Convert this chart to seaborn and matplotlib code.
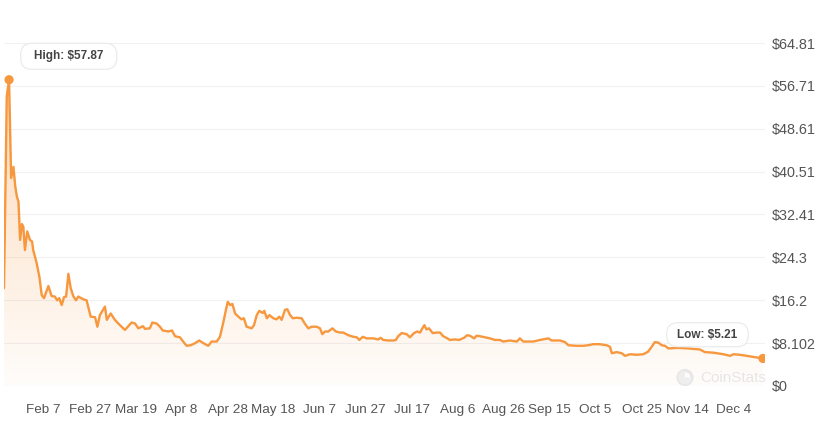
import numpy as np
import pandas as pd
import matplotlib
matplotlib.use("Agg")
import matplotlib.pyplot as plt
import matplotlib.dates as mdates
from matplotlib.patches import Polygon, Circle, Wedge, FancyBboxPatch
from matplotlib.transforms import IdentityTransform
from matplotlib.colors import to_rgb
import seaborn as sns

# price series (days after the first point)
start = pd.Timestamp("2025-01-20 18:00")
day_offsets = [
    0, 1.2, 2.2, 3.1, 4.1, 4.9, 5.6, 6.3, 7.0, 7.8, 8.4, 9.1, 10.1, 11.3, 12.2, 12.7,
    14.2, 15.4, 16.4, 17.4, 19.3, 20.7, 22.1, 23.1, 24.0, 25.1, 26.1, 27.0, 28.0, 29.0,
    30.2, 31.3, 32.3, 34.4, 35.9, 37.7, 39.6, 40.6, 41.7, 43.9, 44.7, 46.4, 48.2, 50.4,
    52.6, 55.5, 57.0, 58.4, 60.4, 61.3, 63.4, 64.5, 66.4, 67.8, 69.0, 71.5, 73.0, 74.4,
    76.5, 77.9, 79.4, 81.2, 83.1, 84.9, 86.7, 88.8, 90.3, 92.5, 93.9, 95.4, 96.5, 97.3,
    98.3, 99.3, 100.5, 101.9, 103.3, 104.3, 105.5, 107.7, 108.7, 109.9, 111.0, 112.5,
    113.2, 114.3, 115.4, 117.1, 118.5, 119.7, 120.7, 122.2, 123.2, 124.4, 125.6, 127.3,
    129.4, 130.8, 132.3, 133.8, 136.0, 137.4, 138.4, 139.6, 141.0, 142.8, 144.3, 146.1,
    147.5, 149.7, 151.9, 153.4, 154.5, 156.0, 157.7, 160.6, 162.7, 163.8, 164.9, 167.1,
    169.3, 170.4, 171.4, 172.9, 175.1, 176.5, 178.3, 179.7, 180.9, 181.9, 182.8, 183.7,
    184.8, 186.4, 188.1, 189.6, 191.0, 192.8, 193.9, 196.1, 197.9, 200.0, 201.4, 202.6,
    204.4, 205.5, 207.0, 209.2, 211.3, 213.5, 215.6, 217.1, 220.0, 223.0, 224.3, 225.8,
    230.1, 233.1, 236.7, 238.1, 241.7, 243.9, 245.4, 249.0, 251.8, 254.0, 256.2, 259.1,
    262.1, 263.5, 264.3, 266.4, 268.6, 270.0, 272.2, 275.1, 278.0, 280.1, 281.6, 283.0,
    284.5, 286.0, 287.4, 288.9, 293.0, 297.5, 302.6, 304.8, 308.4, 312.8, 315.7, 317.2,
    320.0, 322.9, 325.8, 330.0,
]
prices = [
    18.5, 54.7, 57.87, 39.3, 41.4, 37.7, 35.8, 34.8, 27.6, 30.6, 30.1, 25.7, 29.2, 27.6, 27.3, 25.7,
    23.2, 20.6, 17.2, 16.6, 18.9, 17.0, 16.9, 16.2, 16.6, 15.3, 16.8, 16.9, 21.2, 18.5,
    16.9, 16.2, 16.9, 16.4, 16.2, 13.1, 13.0, 11.2, 13.4, 15.0, 12.5, 13.7, 12.5, 11.5,
    10.6, 12.0, 11.8, 10.9, 11.3, 10.8, 10.9, 12.0, 11.8, 11.2, 10.5, 10.3, 10.5, 9.4,
    9.2, 8.4, 7.6, 7.7, 8.1, 8.6, 8.1, 7.6, 8.4, 8.4, 9.3, 12.1, 14.4, 15.9,
    15.3, 15.5, 13.7, 13.1, 12.6, 12.8, 11.2, 10.9, 11.5, 13.4, 14.2, 13.8,
    14.2, 12.8, 13.4, 12.8, 12.6, 13.1, 12.5, 14.4, 14.5, 13.4, 12.8, 12.9,
    12.8, 11.8, 10.9, 11.2, 11.2, 10.9, 9.8, 10.3, 10.3, 10.9, 10.3, 10.1,
    10.1, 9.6, 9.3, 9.2, 8.7, 9.3, 9.0, 9.0, 8.8, 9.1, 8.7, 8.6,
    8.6, 8.7, 9.4, 10.0, 9.8, 9.2, 10.0, 10.3, 10.1, 10.9, 11.5, 10.7,
    10.9, 10.0, 10.1, 10.1, 9.4, 9.0, 8.7, 8.8, 8.7, 9.1, 9.6, 9.5,
    9.0, 9.5, 9.4, 9.2, 9.0, 8.7, 8.7, 8.4, 8.6, 8.4, 9.0, 8.4,
    8.4, 8.7, 9.0, 8.6, 8.6, 8.3, 7.7, 7.6, 7.6, 7.7, 7.9, 7.9,
    7.7, 7.4, 6.2, 6.4, 6.2, 5.7, 6.0, 5.9, 6.0, 6.5, 7.4, 8.3,
    8.2, 7.7, 7.6, 7.1, 7.2, 7.1, 6.9, 6.4, 6.3, 6.0, 5.7, 6.0,
    5.9, 5.7, 5.5, 5.21,
]

tick_dates = ["2025-02-07", "2025-02-27", "2025-03-19", "2025-04-08", "2025-04-28",
              "2025-05-18", "2025-06-07", "2025-06-27", "2025-07-17", "2025-08-06",
              "2025-08-26", "2025-09-15", "2025-10-05", "2025-10-25", "2025-11-14",
              "2025-12-04"]
tick_labels = ["Feb 7", "Feb 27", "Mar 19", "Apr 8", "Apr 28", "May 18", "Jun 7", "Jun 27",
               "Jul 17", "Aug 6", "Aug 26", "Sep 15", "Oct 5", "Oct 25", "Nov 14", "Dec 4"]
y_ticks = [0, 8.102, 16.2, 24.3, 32.41, 40.51, 48.61, 56.71, 64.81]
y_labels = ["$0", "$8.102", "$16.2", "$24.3", "$32.41", "$40.51", "$48.61", "$56.71", "$64.81"]

df = pd.DataFrame({
    "date": start + pd.to_timedelta(day_offsets, unit="D"),
    "price": prices,
})

line_color = "#f7973e"
text_color = "#555555"

sns.set_theme(style="white")
plt.rcParams["font.family"] = ["Liberation Sans", "DejaVu Sans"]

fig = plt.figure(figsize=(8.25, 4.33), dpi=100)
ax = fig.add_axes([4 / 825, 1 - 386 / 433, 761 / 825, 343 / 433])

sns.lineplot(data=df, x="date", y="price", ax=ax, color=line_color, linewidth=1.7, zorder=3)

# gradient fill under the line
xnum = mdates.date2num(df["date"])
verts = [(xnum[0], 0)] + list(zip(xnum, df["price"])) + [(xnum[-1], 0)]
poly = Polygon(verts, closed=True, facecolor="none", edgecolor="none")
ax.add_patch(poly)
rgba = np.zeros((256, 1, 4))
rgba[..., :3] = to_rgb(line_color)
rgba[..., 3] = np.linspace(0.36, 0.025, 256)[:, None]
im = ax.imshow(rgba, extent=[xnum[0], xnum[-1], 0, df["price"].max()],
               aspect="auto", origin="upper", zorder=2)
im.set_clip_path(poly)

# high / low markers
hi = df.loc[df["price"].idxmax()]
lo = df.loc[df["price"].idxmin()]
ax.scatter([hi["date"], lo["date"]], [hi["price"], lo["price"]], s=44, color=line_color,
           zorder=4, edgecolor="none")

ax.set_xlim(xnum[0], xnum[0] + 330.9)
ax.set_ylim(0, 64.81)
ax.set_xticks(mdates.date2num(pd.to_datetime(tick_dates)))
ax.set_xticklabels(tick_labels)
ax.set_yticks(y_ticks)
ax.set_yticklabels(y_labels)
ax.yaxis.tick_right()
ax.tick_params(axis="x", length=0, pad=13, labelsize=9.7, labelcolor=text_color)
ax.tick_params(axis="y", length=0, pad=5, labelsize=10.4, labelcolor=text_color)
ax.grid(axis="y", color="#f1f1f1", linewidth=0.8)
ax.set_axisbelow(True)
for s in ax.spines.values():
    s.set_visible(False)
ax.set_xlabel("")
ax.set_ylabel("")

# label boxes (pixel positions from the reference)
for (bx, by, bw, bh), txt in [((20.7, 43.3, 96, 26), f"High: ${hi['price']:.2f}"),
                              ((666.7, 322.7, 81.6, 24), f"Low: ${lo['price']:.2f}")]:
    fig.add_artist(FancyBboxPatch((bx, 433 - by - bh), bw, bh,
                                  boxstyle="round,pad=0,rounding_size=11",
                                  transform=IdentityTransform(), facecolor="white",
                                  edgecolor="#ebebeb", linewidth=0.9, zorder=9))
    fig.text((bx + bw / 2) / 825, 1 - (by + bh / 2) / 433, txt, ha="center", va="center",
             fontsize=8.5, fontweight="bold", color="#444444", zorder=10)

# watermark
fig.text(700 / 825, 1 - 377.5 / 433, "CoinStats", ha="left", va="center", fontsize=11,
         color="#e6e6e6")
fig.add_artist(Circle((685, 433 - 377.5), 7, transform=IdentityTransform(), fill=False,
                      edgecolor="#e6e6e6", linewidth=2.2))
fig.add_artist(Wedge((685, 433 - 377.5), 7, 90, 360, transform=IdentityTransform(),
                     facecolor="#eeeeee", edgecolor="none"))

fig.savefig("out.png", dpi=100)
